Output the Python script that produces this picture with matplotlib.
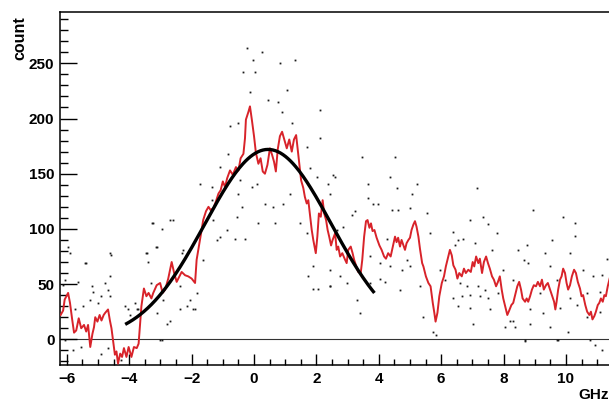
# encoding utf-8

import numpy as np
from matplotlib import pyplot as plt
from matplotlib.ticker import MultipleLocator

# smoothed count (red trace), GHz vs count
trace_x = [-6.20, -6.12, -6.07, -5.96, -5.90, -5.83, -5.77, -5.70, -5.62, -5.54,
           -5.45, -5.38, -5.32, -5.25, -5.18, -5.13, -5.09, -5.02, -4.95, -4.89,
           -4.82, -4.77, -4.68, -4.62, -4.57, -4.52, -4.46, -4.41, -4.36, -4.29,
           -4.23, -4.17, -4.09, -4.02, -3.93, -3.85, -3.76, -3.70, -3.66, -3.61,
           -3.53, -3.45, -3.38, -3.29, -3.23, -3.12, -3.01, -2.93, -2.85, -2.75,
           -2.64, -2.56, -2.48, -2.39, -2.32, -2.21, -2.11, -2.00, -1.89, -1.84,
           -1.75, -1.68, -1.63, -1.54, -1.46, -1.39, -1.30, -1.22, -1.14, -1.07,
           -1.00, -0.93, -0.86, -0.77, -0.68, -0.58, -0.50, -0.43, -0.34, -0.29,
           -0.26, -0.18, -0.13, -0.07, 0.00, 0.06, 0.14, 0.21, 0.28, 0.35,
           0.43, 0.51, 0.58, 0.64, 0.70, 0.76, 0.83, 0.90, 0.97, 1.05,
           1.13, 1.21, 1.28, 1.35, 1.40, 1.45, 1.51, 1.58, 1.63, 1.69,
           1.74, 1.79, 1.85, 1.90, 1.98, 2.03, 2.08, 2.14, 2.20, 2.25,
           2.31, 2.36, 2.41, 2.47, 2.52, 2.60, 2.65, 2.70, 2.76, 2.83,
           2.92, 2.97, 3.02, 3.10, 3.16, 3.21, 3.27, 3.34, 3.42, 3.47,
           3.53, 3.59, 3.64, 3.70, 3.75, 3.80, 3.86, 3.93, 4.02, 4.09,
           4.17, 4.23, 4.30, 4.38, 4.45, 4.52, 4.57, 4.62, 4.68, 4.73,
           4.79, 4.84, 4.89, 4.95, 5.00, 5.05, 5.11, 5.16, 5.21, 5.27,
           5.32, 5.39, 5.43, 5.51, 5.59, 5.66, 5.73, 5.78, 5.82, 5.88,
           5.94, 6.02, 6.09, 6.15, 6.23, 6.28, 6.34, 6.39, 6.46, 6.52,
           6.58, 6.66, 6.73, 6.79, 6.87, 6.95, 7.01, 7.06, 7.12, 7.19,
           7.24, 7.31, 7.37, 7.44, 7.50, 7.56, 7.63, 7.69, 7.76, 7.82,
           7.88, 7.94, 7.99, 8.05, 8.12, 8.18, 8.25, 8.31, 8.37, 8.44,
           8.50, 8.56, 8.61, 8.69, 8.74, 8.79, 8.85, 8.91, 8.97, 9.04,
           9.10, 9.17, 9.23, 9.29, 9.36, 9.42, 9.49, 9.55, 9.62, 9.66,
           9.70, 9.75, 9.81, 9.86, 9.91, 9.97, 10.02, 10.07, 10.13, 10.19,
           10.26, 10.32, 10.38, 10.45, 10.50, 10.55, 10.62, 10.68, 10.75, 10.80,
           10.85, 10.91, 10.96, 11.02, 11.07, 11.12, 11.18, 11.23, 11.28, 11.34,
           11.40]
trace_y = [22, 26, 36, 42, 33, 18, 6, 8, 19, 10,
           13, 7, 13, -7, 5, 11, 20, 16, 22, 17,
           22, 24, 27, 17, 10, -1, -14, -11, -22, -13,
           -16, -8, -16, -7, -16, -7, -8, -4, 11, 30,
           46, 39, 42, 37, 42, 49, 51, 42, 45, 55,
           70, 60, 52, 57, 61, 58, 57, 55, 51, 72,
           87, 99, 108, 116, 120, 117, 119, 125, 132, 135,
           143, 138, 146, 153, 149, 156, 153, 164, 168, 182,
           199, 206, 211, 199, 184, 169, 159, 164, 152, 150,
           158, 173, 167, 161, 152, 172, 184, 188, 181, 173,
           181, 170, 181, 185, 172, 159, 144, 137, 129, 123,
           126, 114, 99, 90, 78, 93, 114, 111, 126, 114,
           108, 99, 93, 85, 90, 96, 81, 84, 75, 78,
           72, 69, 81, 84, 78, 72, 67, 61, 60, 72,
           93, 107, 108, 101, 105, 98, 99, 92, 85, 81,
           75, 73, 78, 75, 84, 93, 88, 92, 84, 90,
           85, 81, 87, 90, 92, 99, 104, 107, 102, 93,
           82, 69, 66, 57, 51, 48, 33, 24, 16, 24,
           39, 51, 57, 66, 75, 81, 76, 67, 63, 55,
           60, 57, 64, 60, 63, 61, 70, 66, 75, 69,
           73, 60, 70, 75, 69, 64, 57, 54, 48, 52,
           57, 45, 37, 30, 22, 26, 31, 33, 40, 48,
           52, 45, 37, 34, 37, 34, 39, 45, 49, 48,
           52, 48, 54, 45, 49, 51, 45, 40, 34, 27,
           34, 45, 54, 57, 64, 60, 51, 45, 49, 57,
           63, 60, 52, 46, 39, 40, 31, 25, 22, 25,
           18, 21, 25, 31, 33, 37, 34, 40, 39, 48,
           55]

# raw counts (scattered dots)
dot_x = [-6.12, -5.96, -5.90, -5.64, -5.48, -5.38, -5.21, -5.16, -5.00, -4.89,
         -4.79, -4.68, -4.62, -4.57, -4.62, -4.14, -4.04, -3.98, -3.82, -3.45,
         -3.40, -3.29, -6.07, -5.80, -5.54, -4.89, -4.68, -4.25, -5.75, -5.27,
         -3.72, -6.07, -3.28, -2.59, -3.12, -2.32, -2.80, -2.96, -2.37, -2.05,
         -1.89, -3.44, -3.76, -5.42, -4.62, -3.23, -2.96, -2.69, -3.15, -2.27,
         -1.73, -1.36, -1.09, -0.82, -0.77, -0.50, -0.88, -1.09, -0.61, -1.30,
         -1.36, -0.39, -0.50, -2.16, -2.69, -1.95, -3.12, -2.91, -3.01, -1.84,
         -0.55, -1.63, -1.20, -2.37, -0.02, 0.83, 1.31, 0.03, -0.13, 0.46,
         0.78, 0.89, 1.05, 2.12, 1.21, 2.12, 1.69, 1.79, 2.01, -0.07,
         0.09, 0.35, 0.62, 0.94, 1.15, 1.47, 0.14, 0.67, -0.29, 1.69,
         1.90, 1.74, 1.90, 2.06, 2.44, 2.44, -0.45, -0.34, 2.44, 2.38,
         2.60, -0.22, 0.26, 3.45, 4.52, 2.54, 4.36, 3.66, 5.21, 4.57,
         5.05, 3.66, 3.82, 3.98, 3.24, 3.13, 4.41, 4.63, 5.00, 2.86,
         2.65, 4.25, 3.72, 4.04, 4.36, 4.89, 4.73, 2.76, 2.97, 4.04,
         4.20, 4.68, 3.29, 3.40, 2.44, 5.32, 5.00, 3.72, 7.14, 5.53,
         6.92, 7.35, 7.51, 5.64, 6.39, 6.55, 6.71, 7.08, 7.62, 6.44,
         5.96, 7.99, 6.60, 6.82, 7.19, 7.40, 6.39, 6.66, 6.92, 7.24,
         7.51, 7.83, 6.55, 6.92, 5.43, 5.75, 5.82, 7.03, 8.04, 8.21,
         7.56, 6.12, 7.78, 8.95, 9.91, 10.29, 9.54, 8.74, 10.29, 8.47,
         9.33, 10.13, 8.64, 11.30, 9.49, 8.79, 10.55, 11.14, 8.31, 9.70,
         10.88, 9.17, 10.13, 10.66, 8.85, 9.27, 9.81, 10.34, 11.09, 8.31,
         8.85, 9.49, 10.07, 10.66, 8.69, 9.75, 10.77, 10.93, 8.37, 11.09,
         8.69, 11.14, 9.70]
dot_y = [49, 84, 78, 52, 30, 69, 48, 43, 33, 39,
         51, 45, 39, 76, 57, 30, 27, 22, 33, 78,
         70, 51, -1, -10, -7, -13, -8, -19, 27, 36,
         27, 54, 105, 108, 84, 78, 14, -1, 27, 36,
         27, 78, 27, 69, 78, 105, 100, 108, 84, 81,
         141, 138, 156, 168, 193, 196, 99, 93, 91, 108,
         126, 120, 132, 30, 17, 27, 24, 36, -1, 42,
         111, 72, 90, 48, 253, 250, 253, 242, 224, 217,
         215, 206, 226, 208, 196, 182, 174, 155, 147, 138,
         141, 123, 120, 123, 132, 105, 105, 105, 91, 96,
         66, 57, 46, 46, 48, 63, 144, 242, 132, 141,
         147, 264, 260, 165, 165, 149, 147, 141, 141, 137,
         132, 128, 123, 123, 116, 113, 117, 117, 119, 102,
         99, 91, 75, 69, 66, 72, 63, 57, 51, 55,
         52, 45, 36, 24, 48, 48, 66, 51, 137, 114,
         108, 111, 104, 96, 97, 90, 91, 87, 81, 85,
         63, 63, 51, 48, 48, 45, 37, 39, 40, 39,
         37, 42, 30, 28, 20, 7, 4, 14, 11, 17,
         27, 54, 96, 117, 111, 105, 90, 85, 94, 81,
         78, 78, 72, 73, 66, 69, 63, 58, 54, 54,
         57, 42, 37, 42, 27, 24, 28, 31, 25, 17,
         14, 11, 7, 20, -1, -1, -1, -5, 11, 43,
         -2, -10, -1]

# gaussian fit result
fit_amp = 172.0
fit_mean = 0.45
fit_sigma = 2.03
fit_range = (-4.13, 3.86)


def spectrum_plot():
    plt.rcParams['font.family'] = ['Liberation Sans', 'DejaVu Sans']
    plt.rcParams['font.weight'] = 'bold'

    fig = plt.figure(figsize=(6.09, 4.01), dpi=100)
    ax = fig.add_axes([60 / 609, 1 - 365 / 401, 549 / 609, 353 / 401])

    # raw points
    ax.plot(dot_x, dot_y, 's', color='#1a1a1a', ms=1.3, mew=0, zorder=2)

    # smoothed trace
    ax.plot(trace_x, trace_y, color='#d8232a', lw=1.4, zorder=3)

    # fit curve
    fx = np.linspace(fit_range[0], fit_range[1], 200)
    fy = fit_amp * np.exp(-(fx - fit_mean) ** 2 / (2 * fit_sigma ** 2))
    ax.plot(fx, fy, color='black', lw=2.4, zorder=4, solid_capstyle='butt')

    # zero line
    ax.axhline(0, color='#333333', lw=0.8, zorder=1)

    ax.set_xlim(-6.22, 11.38)
    ax.set_ylim(-23.3, 296.5)

    ax.xaxis.set_major_locator(MultipleLocator(2))
    ax.xaxis.set_minor_locator(MultipleLocator(0.5))
    ax.yaxis.set_major_locator(MultipleLocator(50))
    ax.yaxis.set_minor_locator(MultipleLocator(10))

    ax.tick_params(axis='y', which='major', direction='in', length=12, width=1.0,
                   labelsize=11, pad=4)
    ax.tick_params(axis='y', which='minor', direction='in', length=6, width=1.0)
    ax.tick_params(axis='x', which='major', direction='in', length=8, width=1.0,
                   labelsize=11, pad=5)
    ax.tick_params(axis='x', which='minor', direction='in', length=4, width=1.0)

    for lab in ax.get_xticklabels() + ax.get_yticklabels():
        lab.set_fontweight('bold')

    ax.spines['right'].set_visible(False)
    for s in ['left', 'top', 'bottom']:
        ax.spines[s].set_linewidth(1.1)

    fig.text(20 / 609, 1 - 16 / 401, 'count', rotation=90, ha='center', va='top',
             fontsize=11.5, fontweight='bold')
    fig.text(0.999, 1 - 399 / 401, 'GHz', ha='right', va='baseline',
             fontsize=11, fontweight='bold')

    fig.savefig('out.png', dpi=100)


if __name__ == '__main__':
    spectrum_plot()
